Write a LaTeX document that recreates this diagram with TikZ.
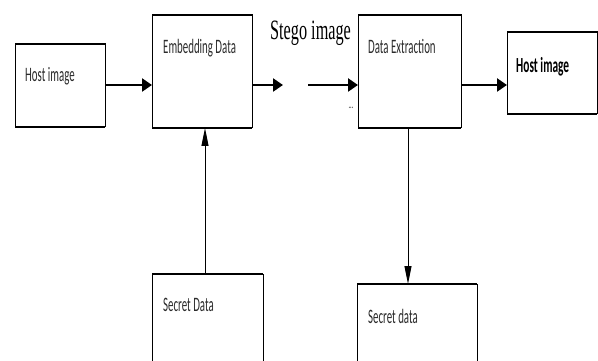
\documentclass[tikz,border=0pt]{standalone}
\usepackage{fontspec}
\usetikzlibrary{arrows.meta}
\newfontfamily\calfont[FakeStretch=0.53]{Carlito}
\newfontfamily\tmsfont[FakeStretch=0.58]{Liberation Serif}
\definecolor{txtgray}{HTML}{2B2B2B}
\tikzset{
  blockbox/.style={draw=black, line width=1pt, minimum width=#1, inner sep=0pt, outer sep=0pt},
  lbl/.style={anchor=west, inner sep=0pt, text=txtgray, font=\calfont\fontsize{20.5}{22}\selectfont},
  thickarrow/.style={line width=2.4pt, -{Triangle[length=10pt,width=13pt]}},
  thinarrow/.style={line width=1pt, -{Triangle[length=18pt,width=7pt]}},
  edge/.style={line width=2.6pt}
}
\begin{document}
\begin{tikzpicture}[x=1pt,y=-1pt]
\useasboundingbox (0,0) rectangle (598,361);
\clip (0,0) rectangle (598,361);
% boxes
\node[blockbox=90pt, minimum height=83pt] (host) at (60,85.5) {};
\node[blockbox=100pt, minimum height=113pt] (embed) at (202,71.5) {};
\node[blockbox=103pt, minimum height=113pt] (dext) at (409.5,71.5) {};
\node[blockbox=90pt, minimum height=82pt] (hostout) at (552,73) {};
\node[blockbox=111pt, minimum height=100pt] (sdata) at (207.5,324) {};
\node[blockbox=120pt, minimum height=90pt] (sout) at (417,329) {};
% thicker top/bottom edges
\foreach \b in {host,embed,dext,hostout}{
  \draw[edge] (\b.north west) -- (\b.north east);
  \draw[edge] (\b.south west) -- (\b.south east);
}
\foreach \b in {sdata,sout}{
  \draw[edge] (\b.north west) -- (\b.north east);
}
% labels
\node[lbl] (thost) at (25,76) {Host image};
\node[lbl] (tembed) at (163,48) {Embedding Data};
\node[lbl] (tdext) at (368,46) {Data Extraction};
\node[lbl, text=black, font=\calfont\bfseries\fontsize{21.5}{23}\selectfont] (thostout) at (516,67) {Host image};
\node[lbl] (tsdata) at (163,305) {Secret Data};
\node[lbl] (tsout) at (368,316) {Secret data};
\node[anchor=west, inner sep=0pt, font=\tmsfont\fontsize{28}{30}\selectfont] (stego) at (270,33) {Stego image};
\node[inner sep=0pt, text=txtgray, font=\calfont\fontsize{12}{12}\selectfont] (dots) at (351,108) {...};
% connectors
\coordinate (freeA) at (283,85);
\coordinate (freeB) at (308,85);
\draw[thickarrow] (host.east |- 0,85) -- (embed.west |- 0,85);
\draw[thickarrow] (embed.east |- 0,85) -- (freeA);
\draw[thickarrow] (freeB) -- (dext.west |- 0,85);
\draw[thickarrow] (dext.east |- 0,85) -- (hostout.west |- 0,85);
\draw[thinarrow] ([xshift=3pt]embed.south |- sdata.north) -- ([xshift=3pt]embed.south);
\draw[thinarrow] ([xshift=-1.5pt]dext.south) -- ([xshift=-1.5pt]dext.south |- sout.north);
\end{tikzpicture}
\end{document}
